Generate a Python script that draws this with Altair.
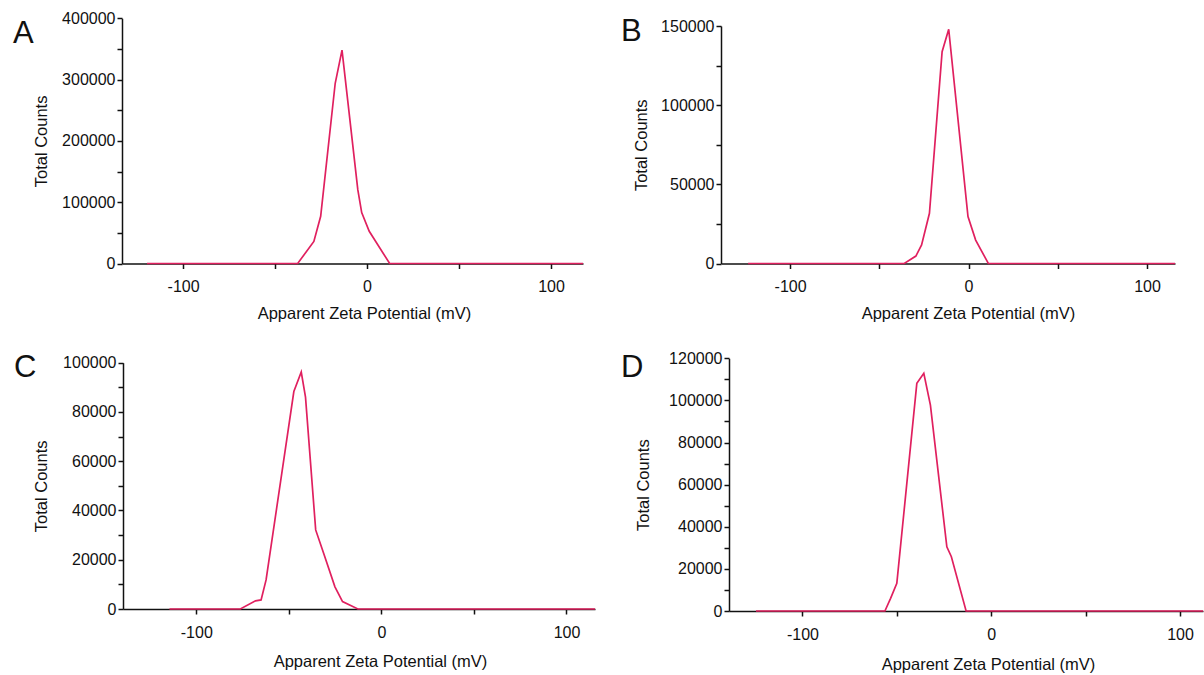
import altair as alt
import pandas as pd

# ---------------- data ----------------
X_TITLE = "Apparent Zeta Potential (mV)"
Y_TITLE = "Total Counts"
PANEL_LABELS = ["A", "B", "C", "D"]
X_TICKS = [-100, -50, 0, 50, 100]

A_x = [-119.6, -37.7, -28.9, -25.2, -17.3, -13.6, -5.0, -2.9, 1.2, 12.3, 117.4]
A_y = [0, 0, 36000, 77000, 294000, 348000, 120000, 83000, 52500, 0, 0]

B_x = [-123.5, -36.0, -29.5, -26.3, -21.9, -14.8, -11.1, -0.3, 4.0, 11.1, 115.7]
B_y = [0, 0, 4700, 11700, 31700, 133800, 147900, 29600, 14800, 0, 0]

C_x = [-114.5, -76.2, -68.0, -65.0, -62.3, -47.3, -43.3, -41.0, -35.5, -31.3, -25.1, -21.0, -12.7, 115.4]
C_y = [0, 0, 3300, 3700, 11800, 88300, 96200, 86000, 32100, 22800, 9000, 3000, 0, 0]

D_x = [-124.6, -56.3, -53.3, -50.0, -39.4, -35.7, -32.2, -23.5, -21.1, -13.3, 112.2]
D_y = [0, 0, 6000, 13100, 108100, 112900, 97800, 30500, 25800, 0, 0]

Y_MAX = [400000, 150000, 100000, 120000]
Y_TICK_STEP = [50000, 25000, 10000, 10000]
Y_LABEL_STEP = [100000, 50000, 20000, 20000]

# ---------------- layout (pixel placement of each panel) ----------------
W, H = 1204, 675
LAYOUT = [
    dict(xr=[122, 583], xd=[-133.2, 117.4], yr=[263.5, 18.3], tx=364, tty=50, ytx=-81, lx=13, ly=43),
    dict(xr=[721, 1175], xd=[-138.7, 115.7], yr=[263.5, 26.0], tx=968, tty=50, ytx=-80, lx=621, ly=41),
    dict(xr=[123, 595], xd=[-139.6, 115.4], yr=[609, 362.7], tx=380, tty=52, ytx=-82, lx=14, ly=377),
    dict(xr=[729, 1203], xd=[-138.9, 112.2], yr=[611, 358.3], tx=988, tty=53, ytx=-86, lx=621, ly=377),
]

LINE_COLOR = "#e0205f"
AXIS_COLOR = "#111111"
FONT = "Liberation Sans"


def panel(xs, ys, i):
    p = LAYOUT[i]
    df = pd.DataFrame({"zeta": xs, "counts": ys})
    x_axis = alt.Axis(
        orient="bottom", offset=p["yr"][0] - H, values=X_TICKS,
        labelExpr="datum.value % 100 === 0 ? toString(datum.value) : ''",
        title=X_TITLE, titleX=p["tx"], titleY=p["tty"],
        titleBaseline="middle", grid=False, tickSize=5, labelPadding=10,
        labelFlush=False, labelOverlap=False,
    )
    y_axis = alt.Axis(
        orient="left", offset=-p["xr"][0],
        values=list(range(0, Y_MAX[i] + 1, Y_TICK_STEP[i])),
        labelExpr=f"datum.value % {Y_LABEL_STEP[i]} === 0 ? toString(datum.value) : ''",
        title=Y_TITLE, titleX=p["ytx"], titleAngle=270,
        titleBaseline="middle", grid=False, tickSize=5, labelPadding=2,
        labelFlush=False, labelOverlap=False,
    )
    line = alt.Chart(df).mark_line(color=LINE_COLOR, strokeWidth=1.7).encode(
        x=alt.X("zeta:Q", scale=alt.Scale(domain=p["xd"], range=p["xr"], nice=False, zero=False), axis=x_axis),
        y=alt.Y("counts:Q", scale=alt.Scale(domain=[0, Y_MAX[i]], range=p["yr"], nice=False, zero=True), axis=y_axis),
    )
    return line


def letter(i):
    p = LAYOUT[i]
    return alt.Chart(pd.DataFrame({"t": [PANEL_LABELS[i]]})).mark_text(
        align="left", baseline="alphabetic", fontSize=31, font=FONT, color="#111111"
    ).encode(text="t:N", x=alt.value(p["lx"]), y=alt.value(p["ly"]))


layers = [panel(A_x, A_y, 0), panel(B_x, B_y, 1), panel(C_x, C_y, 2), panel(D_x, D_y, 3)]
layers += [letter(i) for i in range(4)]

chart = alt.layer(*layers).resolve_scale(
    x="independent", y="independent"
).resolve_axis(
    x="independent", y="independent"
).properties(
    width=W, height=H, padding=0, background="white",
    autosize=alt.AutoSizeParams(type="none"),
).configure_view(
    strokeWidth=0
).configure_axis(
    labelFont=FONT, titleFont=FONT, labelFontSize=16, titleFontSize=16.5,
    titleFontWeight="normal", labelColor="#111111", titleColor="#111111",
    domainColor=AXIS_COLOR, tickColor=AXIS_COLOR, domainWidth=1.5, tickWidth=1.5,
)

chart.save("out.html", embed_options={"renderer": "svg", "actions": False})
